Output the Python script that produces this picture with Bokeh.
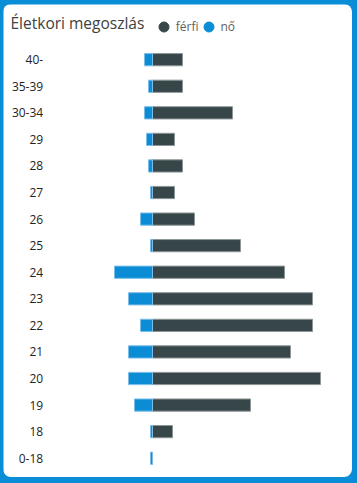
from bokeh.plotting import figure
from bokeh.layouts import column
from bokeh.models import (Range1d, ColumnDataSource, Label, Legend, LegendItem)
from bokeh.core.properties import value
from bokeh.embed import file_html
from bokeh.resources import INLINE

# ---- data ----
age_groups = ["40-", "35-39", "30-34", "29", "28", "27", "26", "25",
              "24", "23", "22", "21", "20", "19", "18", "0-18"]
ferfi = [15, 15, 40, 11, 15, 11, 21, 44, 66, 80, 80, 69, 84, 49, 10, 0]
no = [4, 2, 4, 3, 2, 1, 6, 1, 19, 12, 6, 12, 12, 9, 1, 1]
series_names = ["férfi", "nő"]
title_text = "Életkori megoszlás"

DARK = "#374649"
BLUE = "#0B8DD6"
FRAME_BLUE = "#0A8DD7"

CARD_W, CARD_H = 349, 473
PX_PER_UNIT = 2.0          # horizontal scale (px per person)
ZERO_X = 149               # px from card left to the zero line
ROW_PX = 26.57             # px per category row
TOP_PAD, BOT_PAD = 55.2, 19.3   # px from card edges to first / last row centre

n = len(age_groups)
pos = [n - 1 - k for k in range(n)]   # top category gets highest position

src = ColumnDataSource(dict(
    pos=pos,
    age=age_groups,
    ferfi=ferfi,
    no_left=[-v for v in no],
    zero=[0] * n,
))

x0 = -ZERO_X / PX_PER_UNIT
x1 = (CARD_W - ZERO_X) / PX_PER_UNIT
y0 = -BOT_PAD / ROW_PX
y1 = (n - 1) + TOP_PAD / ROW_PX

p = figure(width=CARD_W, height=CARD_H, output_backend="svg", toolbar_location=None,
           x_axis_type=None, y_axis_type=None,
           x_range=Range1d(x0, x1), y_range=Range1d(y0, y1),
           min_border=0, min_border_left=0, min_border_right=0,
           min_border_top=0, min_border_bottom=0)
p.margin = (4, 5, 6, 3)
p.styles = {"border-radius": "8px", "overflow": "hidden", "position": "relative"}
p.border_fill_color = "white"
p.background_fill_color = "white"
p.outline_line_color = None
p.grid.visible = False

# bars
p.hbar(y="pos", left="zero", right="ferfi", height=0.46, source=src,
       fill_color=DARK, line_color="#8d9597", line_width=1)
p.hbar(y="pos", left="no_left", right="zero", height=0.46, source=src,
       fill_color=BLUE, line_color="#79bde8", line_width=1)

# category labels (right-aligned, left of the bars)
label_x = x0 + 39.7 / PX_PER_UNIT
p.text(x=label_x, y="pos", text="age", source=src,
       text_align="right", text_baseline="middle",
       text_font=value("Open Sans"), text_font_size="12px", text_color="#252423")

# legend (hidden scatter renderers give circle glyphs)
r_f = p.scatter(x="ferfi", y="pos", source=src, marker="circle",
                fill_color=DARK, line_color=DARK, visible=False)
r_n = p.scatter(x="no_left", y="pos", source=src, marker="circle",
                fill_color=BLUE, line_color=BLUE, visible=False)

GLYPH = 25
LEG_CENTER_Y = 22.7   # px from card top to legend row centre
for name, rend, cx in [(series_names[0], r_f, 160.3), (series_names[1], r_n, 205.0)]:
    leg = Legend(items=[LegendItem(label=name, renderers=[rend])],
                 orientation="horizontal",
                 location=(cx - GLYPH / 2, CARD_H - LEG_CENTER_Y - GLYPH / 2),
                 glyph_width=GLYPH, glyph_height=GLYPH, label_height=GLYPH,
                 label_standoff=0, spacing=0, padding=0, margin=0,
                 border_line_color=None, background_fill_alpha=0,
                 inactive_fill_alpha=0,
                 label_text_font="Open Sans", label_text_font_size="12px",
                 label_text_color="#605E5C")
    p.add_layout(leg)

# title
title = Label(x=7, y=CARD_H - 18.7, x_units="screen", y_units="screen",
              text=title_text, text_font="Open Sans", text_font_size="15.5px",
              text_color="#404040", text_baseline="alphabetic", text_align="left")
p.add_layout(title)

layout = column(p)
layout.styles = {"background-color": FRAME_BLUE, "position": "absolute",
                 "left": "0px", "top": "0px"}

open("out.html", "w").write(file_html(layout, INLINE))
